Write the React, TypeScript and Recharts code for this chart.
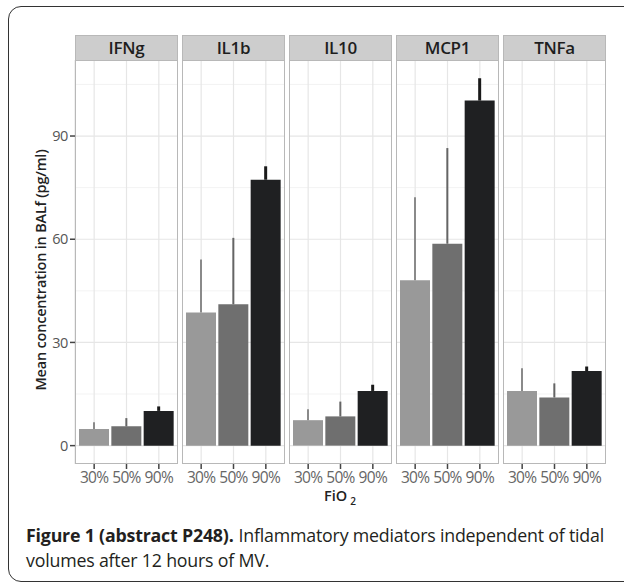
import { BarChart, Bar, XAxis, YAxis, CartesianGrid, ErrorBar, Cell } from 'recharts';

// FiO2 levels (x categories) and facets
const fio2 = ['30%', '50%', '90%'];
const mediators = ['IFNg', 'IL1b', 'IL10', 'MCP1', 'TNFa'];

// mean concentration (pg/ml) per FiO2 level
const ifngMean = [4.8, 5.6, 10.1];
const il1bMean = [38.7, 41.1, 77.3];
const il10Mean = [7.4, 8.5, 15.9];
const mcp1Mean = [48.1, 58.7, 100.3];
const tnfaMean = [15.9, 14.0, 21.7];

// upper error (SE) per FiO2 level
const ifngErr = [2.0, 2.4, 1.3];
const il1bErr = [15.4, 19.3, 3.9];
const il10Err = [3.2, 4.3, 1.8];
const mcp1Err = [24.1, 27.8, 6.5];
const tnfaErr = [6.6, 4.1, 1.3];

const yTicks = [0, 30, 60, 90];
const yMinor = [15, 45, 75, 105];

const means = [ifngMean, il1bMean, il10Mean, mcp1Mean, tnfaMean];
const errs = [ifngErr, il1bErr, il10Err, mcp1Err, tnfaErr];

const barColors = ['#999999', '#6f6f6f', '#1f2022'];
const errColors = ['#8a8a8a', '#656565', '#1a1a1a'];
const errWidths = [2, 2, 3];

const FONT = '"Open Sans", sans-serif';
const PANEL_X0 = 75;
const PANEL_STEP = 107;
const PANEL_W = 103;
const STRIP_TOP = 35;
const PLOT_TOP = 60;
const PLOT_BOTTOM = 464;
const AXIS_H = 32;
const Y_AXIS_W = 75;

function Panel({ idx }: { idx: number }) {
  const data = fio2.map((f, i) => ({
    fio2: f,
    mean: means[idx][i],
    ['e' + i]: [0, errs[idx][i]],
  }));
  const first = idx === 0;
  const left = PANEL_X0 + PANEL_STEP * idx - (first ? Y_AXIS_W : 0);
  const width = PANEL_W + (first ? Y_AXIS_W : 0);

  return (
    <div style={{ position: 'absolute', left, top: PLOT_TOP, width, height: PLOT_BOTTOM - PLOT_TOP + AXIS_H }}>
      <BarChart
        width={width}
        height={PLOT_BOTTOM - PLOT_TOP + AXIS_H}
        data={data}
        margin={{ top: 0, right: 0, bottom: 0, left: 0 }}
        barCategoryGap={1}
      >
        <CartesianGrid horizontalValues={yMinor} vertical={false} stroke="#f3f3f3" strokeWidth={1} />
        <CartesianGrid horizontalValues={yTicks} stroke="#e6e6e6" strokeWidth={1.2} />
        <XAxis
          dataKey="fio2"
          padding={{ left: 3, right: 3 }}
          axisLine={false}
          tickLine={{ stroke: '#444', strokeWidth: 1.5 }}
          tickSize={5}
          tickMargin={3}
          height={AXIS_H}
          interval={0}
          tick={{ fill: '#666', fontSize: 15.5, fontFamily: FONT, letterSpacing: -0.7 }}
        />
        <YAxis
          hide={!first}
          width={Y_AXIS_W}
          domain={[-5.34, 112.1]}
          allowDataOverflow
          ticks={yTicks}
          axisLine={false}
          tickLine={{ stroke: '#444', strokeWidth: 1.5 }}
          tickSize={5}
          tickMargin={2}
          tick={{ fill: '#555', fontSize: 14.5, fontFamily: FONT, letterSpacing: -0.4 }}
        />
        <Bar dataKey="mean" isAnimationActive={false}>
          {data.map((d, i) => (
            <Cell key={d.fio2} fill={barColors[i]} />
          ))}
          {fio2.map((f, i) => (
            <ErrorBar
              key={f}
              dataKey={'e' + i}
              direction="y"
              width={0}
              stroke={errColors[i]}
              strokeWidth={errWidths[i]}
              isAnimationActive={false}
            />
          ))}
        </Bar>
      </BarChart>
      <div
        style={{
          position: 'absolute',
          left: first ? Y_AXIS_W : 0,
          top: STRIP_TOP - PLOT_TOP,
          width: PANEL_W,
          height: PLOT_BOTTOM - STRIP_TOP,
          border: '1.5px solid #b8b8b8',
          boxSizing: 'border-box',
          pointerEvents: 'none',
        }}
      >
        <div
          style={{
            height: PLOT_TOP - STRIP_TOP - 1.5,
            background: '#cdcdcd',
            borderBottom: '1.5px solid #b8b8b8',
            fontFamily: FONT,
            fontWeight: 600,
            fontSize: 17,
            letterSpacing: -0.3,
            color: '#1e1e1e',
            textAlign: 'center',
            lineHeight: `${PLOT_TOP - STRIP_TOP - 1.5}px`,
          }}
        >
          {mediators[idx]}
        </div>
      </div>
    </div>
  );
}

export default function App() {
  const captionStyle = {
    position: 'absolute' as const,
    left: 26,
    width: 594,
    height: 25,
    whiteSpace: 'nowrap' as const,
    fontFamily: FONT,
    fontSize: 17.8,
    letterSpacing: -0.2,
    lineHeight: '25px',
    color: '#231f20',
  };
  return (
    <div style={{ position: 'absolute', left: 0, top: 0, width: 624, height: 584, overflow: 'hidden', background: '#fff' }}>
      <div
        style={{
          position: 'absolute',
          left: 8,
          top: 6,
          width: 660,
          height: 576,
          border: '1.5px solid #333',
          borderRadius: 13,
          boxSizing: 'border-box',
        }}
      />
      {mediators.map((m, i) => (
        <Panel key={m} idx={i} />
      ))}
      <div
        style={{
          position: 'absolute',
          left: 41 - 150,
          top: 270 - 10,
          width: 300,
          height: 20,
          transform: 'rotate(-90deg)',
          textAlign: 'center',
          fontFamily: FONT,
          fontWeight: 600,
          fontSize: 14.5,
          letterSpacing: -0.2,
          lineHeight: '20px',
          color: '#222',
        }}
      >
        Mean concentration in BALf (pg/ml)
      </div>
      <div
        style={{
          position: 'absolute',
          left: 290,
          width: 100,
          top: 487,
          height: 20,
          textAlign: 'center',
          fontFamily: FONT,
          fontWeight: 600,
          fontSize: 14.5,
          lineHeight: '18px',
          color: '#222',
        }}
      >
        FiO<span style={{ fontSize: 10, marginLeft: 3, position: 'relative', top: 4 }}>2</span>
      </div>
      <div style={{ ...captionStyle, top: 523 }}>
        <span style={{ fontWeight: 700 }}>Figure 1 (abstract P248).</span>
        <span style={{ marginLeft: 5 }}>Inflammatory mediators independent of tidal</span>
      </div>
      <div style={{ ...captionStyle, top: 548 }}>
        <span>volumes after 12 hours of MV.</span>
      </div>
    </div>
  );
}
